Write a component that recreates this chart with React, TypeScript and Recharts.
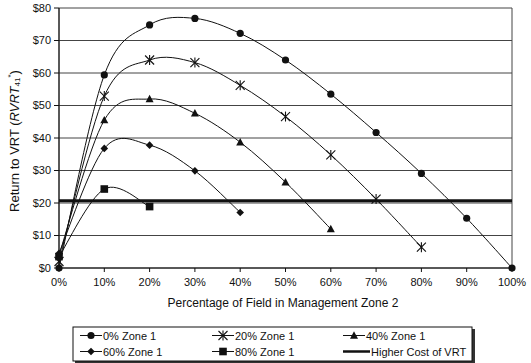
import React from 'react';
import { LineChart, Line, XAxis, YAxis, CartesianGrid, ReferenceLine } from 'recharts';

// Share of the field in management zone 2 (%)
const pctZone2 = [0, 10, 20, 30, 40, 50, 60, 70, 80, 90, 100];
const xTicks = [0, 10, 20, 30, 40, 50, 60, 70, 80, 90, 100];
const yTicks = [0, 10, 20, 30, 40, 50, 60, 70, 80];

// Return to VRT ($) for each share of the field in zone 1
const zone1Pct0 = [0, 59.4, 74.8, 76.8, 72.2, 64, 53.5, 41.7, 29.1, 15.3, 0];
const zone1Pct20 = [2, 52.9, 64, 63.2, 56.2, 46.6, 34.8, 21.2, 6.4];
const zone1Pct40 = [4, 45.5, 52, 47.6, 38.7, 26.4, 12];
const zone1Pct60 = [4.5, 36.8, 37.8, 29.9, 17.1];
const zone1Pct80 = [3.5, 24.3, 18.9];
const higherCostOfVrt = 20.7;

const FONT = '"Liberation Sans", Arial, sans-serif';
const INK = '#111';

const toRows = (vals: number[]) => vals.map((v, i) => ({ pct: pctZone2[i], value: v }));

// Smoothed line: cubic Bezier through every point (Catmull-Rom style tangents)
const smoothCurve = (context: any) => {
  let pts: number[][] = [];
  return {
    areaStart() {},
    areaEnd() {},
    lineStart() {
      pts = [];
    },
    point(x: number, y: number) {
      pts.push([+x, +y]);
    },
    lineEnd() {
      if (!pts.length) return;
      context.moveTo(pts[0][0], pts[0][1]);
      for (let i = 0; i < pts.length - 1; i++) {
        const p0 = pts[i - 1] || pts[i];
        const p1 = pts[i];
        const p2 = pts[i + 1];
        const p3 = pts[i + 2] || p2;
        context.bezierCurveTo(
          p1[0] + (p2[0] - p0[0]) / 6,
          p1[1] + (p2[1] - p0[1]) / 6,
          p2[0] - (p3[0] - p1[0]) / 6,
          p2[1] - (p3[1] - p1[1]) / 6,
          p2[0],
          p2[1]
        );
      }
    },
  };
};

type MarkerKind = 'circle' | 'star' | 'triangle' | 'diamond' | 'square';

const Marker = ({ kind, cx, cy }: { kind: MarkerKind; cx: number; cy: number }) => {
  switch (kind) {
    case 'circle':
      return <circle cx={cx} cy={cy} r={3.6} fill={INK} />;
    case 'star':
      return (
        <g stroke={INK} strokeWidth={1.1}>
          <line x1={cx - 4.5} y1={cy - 4.5} x2={cx + 4.5} y2={cy + 4.5} />
          <line x1={cx - 4.5} y1={cy + 4.5} x2={cx + 4.5} y2={cy - 4.5} />
          <line x1={cx} y1={cy - 5} x2={cx} y2={cy + 5} />
        </g>
      );
    case 'triangle':
      return <polygon points={`${cx},${cy - 4.2} ${cx + 4},${cy + 3.2} ${cx - 4},${cy + 3.2}`} fill={INK} />;
    case 'diamond':
      return <polygon points={`${cx},${cy - 3.8} ${cx + 3.8},${cy} ${cx},${cy + 3.8} ${cx - 3.8},${cy}`} fill={INK} />;
    case 'square':
      return <rect x={cx - 3.8} y={cy - 3.8} width={7.6} height={7.6} fill={INK} />;
  }
  return null;
};

const dotFor = (kind: MarkerKind) => (props: any) => (
  <g key={`${kind}-${props.index}`}>
    <Marker kind={kind} cx={props.cx} cy={props.cy} />
  </g>
);

const series: { name: string; kind: MarkerKind; values: number[] }[] = [
  { name: '0% Zone 1', kind: 'circle', values: zone1Pct0 },
  { name: '20% Zone 1', kind: 'star', values: zone1Pct20 },
  { name: '40% Zone 1', kind: 'triangle', values: zone1Pct40 },
  { name: '60% Zone 1', kind: 'diamond', values: zone1Pct60 },
  { name: '80% Zone 1', kind: 'square', values: zone1Pct80 },
];

const YTitle = () => (
  <text
    x={14}
    y={141}
    transform="rotate(-90, 14, 141)"
    textAnchor="middle"
    dominantBaseline="central"
    fontFamily={FONT}
    fontSize={13}
    fill={INK}
  >
    Return to VRT (
    <tspan fontStyle="italic">RVRT</tspan>
    <tspan fontSize={8} dy={3}>41</tspan>
    <tspan fontSize={8} dy={-7}>*</tspan>
    <tspan dy={4}>)</tspan>
  </text>
);

const XTitle = () => (
  <text x={283} y={307} textAnchor="middle" fontFamily={FONT} fontSize={12} fill={INK}>
    Percentage of Field in Management Zone 2
  </text>
);

// Legend entries laid out in a 3 x 2 grid, in the series order
const legendItems = [
  { name: series[0].name, kind: series[0].kind as MarkerKind | 'thick' },
  { name: series[1].name, kind: series[1].kind as MarkerKind | 'thick' },
  { name: series[2].name, kind: series[2].kind as MarkerKind | 'thick' },
  { name: series[3].name, kind: series[3].kind as MarkerKind | 'thick' },
  { name: series[4].name, kind: series[4].kind as MarkerKind | 'thick' },
  { name: 'Higher Cost of VRT', kind: 'thick' as MarkerKind | 'thick' },
];

const LegendBox = () => {
  const colX = [80, 212, 343];
  const rowY = [335.5, 351.5];
  return (
    <svg
      width={531}
      height={363}
      style={{ position: 'absolute', left: 0, top: 0, pointerEvents: 'none' }}
    >
      <rect x={75} y={329} width={400} height={34} fill="#333" />
      <rect x={73} y={327} width={399} height={34} fill="#fff" stroke={INK} strokeWidth={1} />
      {legendItems.map((item, i) => {
        const x = colX[i % 3];
        const y = rowY[Math.floor(i / 3)];
        const thick = item.kind === 'thick';
        const lineEnd = x + (thick ? 27 : 22);
        return (
          <g key={item.name}>
            <line x1={x} y1={y} x2={lineEnd} y2={y} stroke={INK} strokeWidth={thick ? 2.5 : 1} />
            {!thick && <Marker kind={item.kind as MarkerKind} cx={x + 11} cy={y} />}
            <text
              x={lineEnd + 1}
              y={y}
              dominantBaseline="central"
              fontFamily={FONT}
              fontSize={11}
              fill={INK}
            >
              {item.name}
            </text>
          </g>
        );
      })}
    </svg>
  );
};

export default function App() {
  return (
    <div style={{ position: 'absolute', left: 0, top: 0, width: 531, height: 363, background: '#fff' }}>
      <LineChart width={531} height={363} margin={{ top: 8, right: 19, bottom: 0, left: 0 }}>
        <CartesianGrid
          stroke="#444"
          strokeWidth={1}
          verticalCoordinatesGenerator={({ offset }: any) => [offset.left, offset.left + offset.width]}
        />
        <XAxis
          dataKey="pct"
          type="number"
          domain={[0, 100]}
          ticks={xTicks}
          tickFormatter={(v: number) => `${v}%`}
          allowDuplicatedCategory={false}
          height={95}
          tickSize={4}
          tickMargin={6}
          axisLine={{ stroke: INK }}
          tickLine={{ stroke: INK }}
          tick={{ fill: INK, fontFamily: FONT, fontSize: 11 }}
          label={<XTitle />}
        />
        <YAxis
          type="number"
          domain={[0, 80]}
          ticks={yTicks}
          tickFormatter={(v: number) => `$${v}`}
          width={59}
          tickSize={5}
          tickMargin={3}
          axisLine={{ stroke: INK }}
          tickLine={{ stroke: INK }}
          tick={{ fill: INK, fontFamily: FONT, fontSize: 11 }}
          label={<YTitle />}
        />
        <ReferenceLine y={higherCostOfVrt} stroke={INK} strokeWidth={3} ifOverflow="visible" />
        {series.map((s) => (
          <Line
            key={s.name}
            data={toRows(s.values)}
            dataKey="value"
            name={s.name}
            type={smoothCurve as any}
            stroke={INK}
            strokeWidth={1}
            dot={dotFor(s.kind)}
            activeDot={false}
            isAnimationActive={false}
          />
        ))}
      </LineChart>
      <LegendBox />
    </div>
  );
}
